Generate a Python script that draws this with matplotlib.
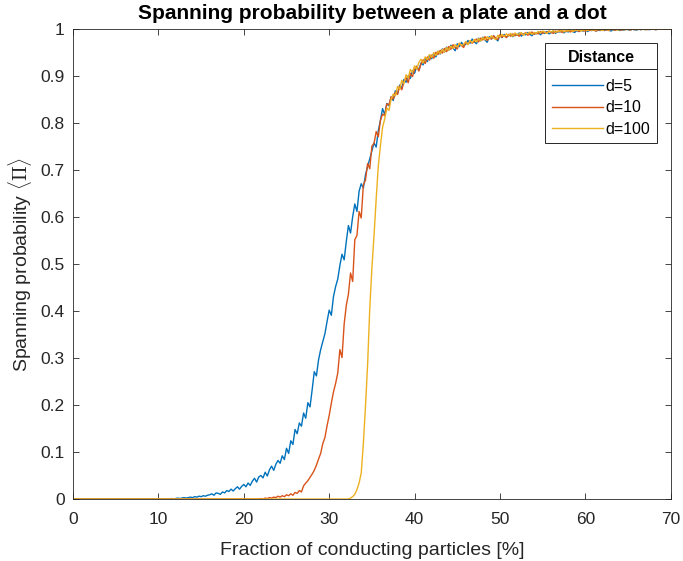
import numpy as np
import matplotlib
matplotlib.use('Agg')
import matplotlib.pyplot as plt
from matplotlib.lines import Line2D

plt.rcParams.update({'font.size': 12, 'font.family': 'Liberation Sans', 'mathtext.fontset': 'cm',
                     'axes.linewidth': 0.6})

# fraction of conducting particles [%], sampled every 0.25 %
fraction = np.arange(0, 70.001, 0.25)

# spanning probability for d=5
prob_d5 = [0.0] * 44 + [
    0.000, 0.000, 0.001, 0.000, 0.001, 0.002, 0.001, 0.002, 0.003, 0.002, 0.003, 0.004, 0.003, 0.005, 0.004, 0.006, 0.005, 0.007, 0.006, 0.008,
    0.009, 0.011, 0.008, 0.013, 0.012, 0.010, 0.015, 0.013, 0.018, 0.016, 0.021, 0.017, 0.022, 0.026, 0.021, 0.027, 0.031, 0.026, 0.034, 0.029,
    0.038, 0.044, 0.036, 0.047, 0.050, 0.045, 0.057, 0.049, 0.062, 0.070, 0.061, 0.074, 0.082, 0.076, 0.092, 0.084, 0.108, 0.097, 0.124, 0.116,
    0.148, 0.139, 0.162, 0.155, 0.183, 0.172, 0.205, 0.196, 0.232, 0.271, 0.262, 0.296, 0.318, 0.335, 0.352, 0.378, 0.402, 0.391, 0.431, 0.452,
    0.468, 0.497, 0.521, 0.509, 0.548, 0.582, 0.566, 0.601, 0.628, 0.612, 0.655, 0.671, 0.662, 0.690, 0.708, 0.724, 0.741, 0.758, 0.749, 0.784,
    0.806, 0.831, 0.818, 0.842, 0.837, 0.856, 0.848, 0.869, 0.862, 0.881, 0.874, 0.893, 0.887, 0.901, 0.895, 0.912, 0.906, 0.921, 0.913, 0.928,
    0.924, 0.938, 0.931, 0.945, 0.937, 0.949, 0.941, 0.953, 0.947, 0.958, 0.951, 0.962, 0.955, 0.966, 0.960, 0.954, 0.969, 0.963, 0.972, 0.965,
    0.968, 0.976, 0.970, 0.979, 0.973, 0.969, 0.981, 0.975, 0.983, 0.977, 0.972, 0.984, 0.979, 0.986, 0.980, 0.975, 0.987, 0.982, 0.989, 0.983,
    0.986, 0.990, 0.984, 0.989, 0.987, 0.992, 0.985, 0.990, 0.988, 0.993, 0.989, 0.986, 0.992, 0.990, 0.994, 0.988, 0.993, 0.991, 0.995, 0.990,
    0.993, 0.996, 0.991, 0.995, 0.994, 0.997, 0.992, 0.996, 0.994, 0.998, 0.995, 0.993, 0.997, 0.995, 0.998, 0.996, 0.999, 0.995, 0.998, 0.997,
    0.999, 0.996, 0.998, 0.997, 1.000, 0.997, 0.999, 0.998, 0.996, 0.999, 0.998, 1.000, 0.997, 0.999, 0.998, 1.000, 0.999, 0.998, 1.000, 0.999,
    0.998, 1.000, 0.999, 1.000, 0.999, 1.000, 0.999, 1.000, 1.000, 0.999, 1.000, 1.000, 1.000, 1.000, 1.000, 1.000, 1.000,
]

# spanning probability for d=10
prob_d10 = [0.0] * 88 + [
    0.001, 0.000, 0.002, 0.001, 0.003, 0.002, 0.004, 0.003, 0.006, 0.004, 0.007, 0.005, 0.009, 0.007, 0.011, 0.008, 0.014, 0.012, 0.018, 0.015,
    0.028, 0.034, 0.039, 0.046, 0.053, 0.061, 0.072, 0.085, 0.097, 0.118, 0.131, 0.156, 0.178, 0.204, 0.228, 0.246, 0.268, 0.318, 0.301, 0.372,
    0.412, 0.436, 0.481, 0.463, 0.552, 0.561, 0.612, 0.598, 0.668, 0.679, 0.714, 0.703, 0.751, 0.757, 0.782, 0.771, 0.806, 0.819, 0.816, 0.841,
    0.839, 0.856, 0.851, 0.866, 0.861, 0.879, 0.871, 0.888, 0.897, 0.886, 0.906, 0.899, 0.914, 0.921, 0.911, 0.926, 0.935, 0.927, 0.941, 0.934,
    0.945, 0.938, 0.951, 0.946, 0.955, 0.949, 0.959, 0.952, 0.963, 0.957, 0.967, 0.961, 0.958, 0.970, 0.965, 0.961, 0.973, 0.968, 0.975, 0.970,
    0.974, 0.979, 0.973, 0.981, 0.977, 0.984, 0.976, 0.982, 0.979, 0.986, 0.981, 0.978, 0.988, 0.983, 0.987, 0.982, 0.989, 0.985, 0.990, 0.986,
    0.989, 0.985, 0.991, 0.988, 0.993, 0.987, 0.990, 0.994, 0.989, 0.992, 0.990, 0.995, 0.991, 0.994, 0.992, 0.996, 0.993, 0.991, 0.996, 0.994,
    0.997, 0.993, 0.996, 0.995, 0.998, 0.994, 0.997, 0.996, 0.999, 0.995, 0.998, 0.997, 0.996, 0.999, 0.997, 0.999, 0.998, 0.996, 0.999, 0.998,
    1.000, 0.998, 0.999, 0.997, 1.000, 0.999, 0.998, 1.000, 0.999, 0.998, 1.000, 0.999, 1.000, 0.998, 1.000, 0.999, 1.000, 1.000, 0.999, 1.000,
    1.000, 0.999, 1.000, 1.000, 1.000, 0.999, 1.000, 1.000, 1.000, 1.000, 1.000, 1.000, 1.000,
]

# spanning probability for d=100
prob_d100 = [0.0] * 130 + [
    0.002, 0.005, 0.010, 0.020, 0.034, 0.055, 0.118, 0.198, 0.287, 0.405, 0.492, 0.561, 0.638, 0.709, 0.752, 0.791, 0.809, 0.832, 0.827, 0.851,
    0.862, 0.858, 0.878, 0.872, 0.891, 0.884, 0.903, 0.896, 0.914, 0.908, 0.922, 0.915, 0.929, 0.936, 0.928, 0.941, 0.935, 0.946, 0.940, 0.950,
    0.944, 0.953, 0.948, 0.957, 0.951, 0.961, 0.955, 0.964, 0.959, 0.967, 0.962, 0.970, 0.965, 0.968, 0.973, 0.967, 0.976, 0.971, 0.978, 0.973,
    0.980, 0.975, 0.982, 0.977, 0.984, 0.979, 0.986, 0.981, 0.978, 0.987, 0.983, 0.989, 0.984, 0.990, 0.986, 0.991, 0.985, 0.992, 0.988, 0.990,
    0.993, 0.987, 0.992, 0.990, 0.994, 0.989, 0.993, 0.991, 0.995, 0.992, 0.996, 0.993, 0.991, 0.996, 0.994, 0.997, 0.993, 0.996, 0.995, 0.998,
    0.994, 0.997, 0.996, 0.999, 0.995, 0.998, 0.997, 0.999, 0.996, 0.998, 0.999, 0.997, 1.000, 0.998, 0.999, 0.998, 1.000, 0.999, 0.997, 1.000,
    0.999, 0.998, 1.000, 0.999, 1.000, 0.998, 0.999, 1.000, 0.999, 1.000, 1.000, 0.999, 1.000, 1.000, 0.999, 1.000, 1.000, 1.000, 0.999, 1.000,
    1.000, 1.000, 1.000, 1.000, 1.000, 1.000, 1.000, 1.000, 1.000, 1.000, 1.000,
]

labels = ['d=5', 'd=10', 'd=100']
colors = ['#0072BD', '#D95319', '#EDB120']

fig = plt.figure(figsize=(6.83, 5.61), dpi=100)
ax = fig.add_axes([0.107, 0.1105, 0.875, 0.8375])

for prob, lab, col in zip([prob_d5, prob_d10, prob_d100], labels, colors):
    ax.plot(fraction, prob, color=col, lw=1.0, label=lab)

ax.set_xlim(0, 70)
ax.set_ylim(0, 1)
ax.set_xticks(np.arange(0, 71, 10))
ax.set_yticks(np.arange(0, 1.01, 0.1))
ax.set_yticklabels(['0', '0.1', '0.2', '0.3', '0.4', '0.5', '0.6', '0.7', '0.8', '0.9', '1'])
ax.tick_params(direction='in', top=True, right=True, length=4, width=0.6,
               colors='#262626', labelsize=12.5)
ax.tick_params(axis='x', pad=9)
ax.tick_params(axis='y', pad=6)
for sp in ax.spines.values():
    sp.set_color('#262626')

ax.set_title('Spanning probability between a plate and a dot', fontsize=15,
             fontweight='bold', pad=7)
ax.set_xlabel('Fraction of conducting particles [%]', fontsize=14, color='#262626', labelpad=11)
ax.set_ylabel(r'Spanning probability $\langle\Pi\rangle$', fontsize=14, color='#262626', labelpad=5)

leg = ax.legend(title='Distance', loc='upper right', bbox_to_anchor=(0.977, 0.970),
                borderaxespad=0, fancybox=False, framealpha=1, edgecolor='#262626',
                handlelength=3.2, handletextpad=0.2, fontsize=11.5, labelspacing=0.42,
                borderpad=0.4, title_fontproperties={'weight': 'bold', 'size': 11.5})
leg.get_frame().set_linewidth(0.7)
leg._legend_box.sep = 10

# rule under the legend title
fig.canvas.draw()
fb = leg.get_frame().get_window_extent()
tb = leg.get_title().get_window_extent()
yline = tb.y0 - 4
fig.add_artist(Line2D([fb.x0, fb.x1], [yline, yline], transform=None,
                      color='#262626', lw=0.7))

fig.savefig('out.png', dpi=100)
